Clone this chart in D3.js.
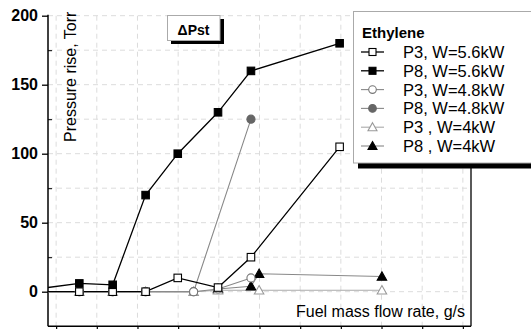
<!DOCTYPE html>
<html><head><meta charset="utf-8">
<script src="https://cdn.jsdelivr.net/npm/d3@7"></script>
<style>body{margin:0;background:#fff}svg{display:block}text{font-family:"Liberation Sans",Arial,sans-serif}</style>
</head><body><svg id="c" width="531" height="329"></svg>
<script>
// ---- data ----
const xTicks = [0,1,2,3,4,5,6,7,8,9,10];
const yMajorTicks = [0,50,100,150,200];
const yMinorTicks = [-25,25,75,125,175];
const seriesNames = ["P3, W=5.6kW","P8, W=5.6kW","P3, W=4.8kW","P8, W=4.8kW","P3 , W=4kW","P8 , W=4kW"];
const p3_56x = [-1,0.57,1.39,2.2,2.99,3.98,4.79,6.97];
const p3_56y = [0,0,0,0,10,3,25,105];
const p8_56x = [-1,0.57,1.39,2.2,2.99,3.98,4.79,6.97];
const p8_56y = [0,6,5,70,100,130,160,180];
const p3_48x = [-1,0.57,1.39,2.2,3.38,3.98,4.79];
const p3_48y = [0,0,0,0,0,2,10];
const p8_48x = [-1,0.57,1.39,2.2,3.38,4.79];
const p8_48y = [0,0,0,0,0,125];
const p3_4x = [-1,0.57,1.39,2.2,3.38,3.98,4.99,8.01];
const p3_4y = [0,0,0,0,0,1,1,1];
const p8_4x = [3.98,4.79,4.99,8.01];
const p8_4y = [2,4,13,11];

const styles = [
  {shape:"square", fill:"#fff", stroke:"#000", line:"#000", lw:1.3},
  {shape:"square", fill:"#000", stroke:"#000", line:"#000", lw:1.3},
  {shape:"circle", fill:"#fff", stroke:"#777", line:"#888", lw:1.1},
  {shape:"circle", fill:"#666", stroke:"#666", line:"#888", lw:1.1},
  {shape:"triangle", fill:"#fff", stroke:"#999", line:"#aaa", lw:1.1},
  {shape:"triangle", fill:"#000", stroke:"#000", line:"#888", lw:1.1}
];
const series = [[p3_56x,p3_56y],[p8_56x,p8_56y],[p3_48x,p3_48y],[p8_48x,p8_48y],[p3_4x,p3_4y],[p8_4x,p8_4y]]
  .map((s,i)=>({name:seriesNames[i], pts:s[0].map((x,j)=>({x, y:s[1][j]})), st:styles[i]}));

const svg = d3.select("#c");
const L=48, R=471, T=15.7, B=326.2;
const x = d3.scaleLinear().domain([-0.2,10.2]).range([L,R]);
const y = d3.scaleLinear().domain([-25,200]).range([B,T]);

svg.append("defs").append("clipPath").attr("id","clip")
  .append("rect").attr("x",L).attr("y",T-10).attr("width",R-L).attr("height",B-T+10);

// grid
const grid = svg.append("g").attr("stroke","#dcdcdc").attr("stroke-dasharray","5,4").attr("stroke-width",1);
xTicks.forEach(t=>grid.append("line").attr("x1",x(t)).attr("x2",x(t)).attr("y1",T).attr("y2",B));
yMajorTicks.concat(yMinorTicks).filter(v=>v>-25).forEach(t=>grid.append("line").attr("x1",L).attr("x2",R).attr("y1",y(t)).attr("y2",y(t)));

// axes
const yAx = svg.append("g").attr("transform",`translate(${L},0)`)
  .call(d3.axisLeft(y).tickValues(yMajorTicks).tickSize(6).tickPadding(4).tickFormat(d3.format("d")));
yAx.select(".domain").remove();
yAx.selectAll("text").attr("font-size",16).attr("font-weight","bold").attr("fill","#000").style("font-family","Liberation Sans, Arial, sans-serif");
yAx.selectAll("line").attr("stroke","#000").attr("stroke-width",1.3);
const yMin = svg.append("g").attr("transform",`translate(${L},0)`)
  .call(d3.axisRight(y).tickValues(yMinorTicks.filter(v=>v>-25)).tickSize(4).tickFormat(""));
yMin.select(".domain").remove();
yMin.selectAll("line").attr("stroke","#000");
const xAx = svg.append("g").attr("transform",`translate(0,${B})`)
  .call(d3.axisBottom(x).tickValues(xTicks).tickSize(5).tickFormat(""));
xAx.select(".domain").remove();
xAx.selectAll("line").attr("stroke","#000").attr("stroke-width",1.2);

svg.append("line").attr("x1",L).attr("x2",L).attr("y1",T-1).attr("y2",B).attr("stroke","#000").attr("stroke-width",1.5);
svg.append("line").attr("x1",L).attr("x2",R).attr("y1",B).attr("y2",B).attr("stroke","#000").attr("stroke-width",1.5);
svg.append("line").attr("x1",R).attr("x2",R).attr("y1",T).attr("y2",B).attr("stroke","#000").attr("stroke-width",1.3);

// series
function marker(g, shape, cx, cy, st, size){
  const s = size||7.5;
  if(shape==="square") g.append("rect").attr("x",cx-s/2).attr("y",cy-s/2).attr("width",s).attr("height",s);
  else if(shape==="circle") g.append("circle").attr("cx",cx).attr("cy",cy).attr("r",s/2+0.3);
  else g.append("path").attr("d",`M${cx},${cy-s/2-1}L${cx+s/2+1},${cy+s/2}L${cx-s/2-1},${cy+s/2}Z`);
  g.selectAll(":scope > *:last-child").attr("fill",st.fill).attr("stroke",st.stroke).attr("stroke-width",1.1);
}
const plot = svg.append("g").attr("clip-path","url(#clip)");
const line = d3.line().x(d=>x(d.x)).y(d=>y(d.y));
const order = [5,4,3,2,0,1];
order.forEach(i=>{
  const s=series[i];
  plot.append("path").attr("d",line(s.pts)).attr("fill","none").attr("stroke",s.st.line).attr("stroke-width",s.st.lw);
});
order.forEach(i=>{
  const s=series[i];
  const g=plot.append("g");
  s.pts.forEach(p=>marker(g,s.st.shape,x(p.x),y(p.y),s.st));
});

// axis titles
svg.append("text").attr("transform","translate(76,142) rotate(-90)").attr("font-size",16).text("Pressure rise, Torr");
svg.append("text").attr("x",465).attr("y",316.5).attr("text-anchor","end").attr("font-size",16).text("Fuel mass flow rate, g/s");

// ΔPst box
svg.append("rect").attr("x",171).attr("y",19).attr("width",53).attr("height",25).attr("fill","#000");
svg.append("rect").attr("x",167.5).attr("y",15.5).attr("width",52.5).attr("height",25).attr("fill","#fff").attr("stroke","#aaa").attr("stroke-width",1);
svg.append("text").attr("x",193.5).attr("y",34.5).attr("text-anchor","middle").attr("font-size",14).attr("font-weight","bold").text("ΔPst");

// legend
const lg = svg.append("g");
lg.append("rect").attr("x",358).attr("y",162.5).attr("width",180).attr("height",6).attr("fill","#000");
lg.append("rect").attr("x",353.5).attr("y",11.5).attr("width",190).attr("height",151.5).attr("fill","#fff").attr("stroke","#aaa").attr("stroke-width",1);
lg.append("text").attr("x",362).attr("y",37.5).attr("font-size",15).attr("font-weight","bold").text("Ethylene");
const rowY = d3.scaleLinear().domain([0,5]).range([52,146]);
series.forEach((s,i)=>{
  const cy=rowY(i);
  lg.append("line").attr("x1",361).attr("x2",384).attr("y1",cy).attr("y2",cy).attr("stroke",s.st.line).attr("stroke-width",s.st.lw);
  marker(lg.append("g"),s.st.shape,372.5,cy,s.st,7);
  lg.append("text").attr("x",403).attr("y",cy+6).attr("font-size",16.5).text(s.name);
});
</script></body></html>
